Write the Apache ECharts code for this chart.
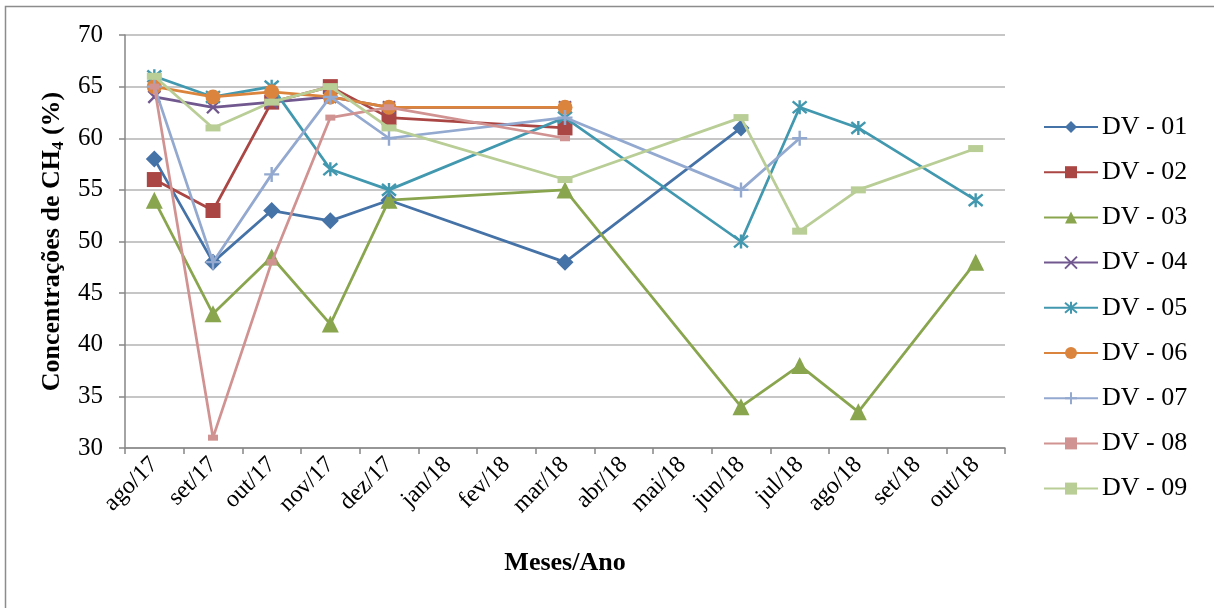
<!DOCTYPE html>
<html>
<head>
<meta charset="utf-8">
<script src="https://cdn.jsdelivr.net/npm/echarts@6/dist/echarts.min.js"></script>
<style>
  html, body { margin: 0; padding: 0; background: #fff; }
  #chart { width: 1214px; height: 608px; }
</style>
</head>
<body>
<div id="chart"></div>
<script>
// Monthly CH4 concentration (%) per digester
const months = ['ago/17','set/17','out/17','nov/17','dez/17','jan/18','fev/18','mar/18','abr/18','mai/18','jun/18','jul/18','ago/18','set/18','out/18'];
const yTicks = [30, 35, 40, 45, 50, 55, 60, 65, 70];

const dv01 = [58, 48, 53, 52, 54, null, null, 48, null, null, 61, null, null, null, null];
const dv02 = [56, 53, 63.5, 65, 62, null, null, 61, null, null, null, null, null, null, null];
const dv03 = [54, 43, 48.5, 42, 54, null, null, 55, null, null, 34, 38, 33.5, null, 48];
const dv04 = [64, 63, 63.5, 64, 63, null, null, 63, null, null, null, null, null, null, null];
const dv05 = [66, 64, 65, 57, 55, null, null, 62, null, null, 50, 63, 61, null, 54];
const dv06 = [65, 64, 64.5, 64, 63, null, null, 63, null, null, null, null, null, null, null];
const dv07 = [65, 48, 56.5, 64, 60, null, null, 62, null, null, 55, 60, null, null, null];
const dv08 = [65, 31, 48, 62, 63, null, null, 60, null, null, null, null, null, null, null];
const dv09 = [66, 61, 63.5, 65, 61, null, null, 56, null, null, 62, 51, 55, null, 59];

const seriesNames = ['DV - 01','DV - 02','DV - 03','DV - 04','DV - 05','DV - 06','DV - 07','DV - 08','DV - 09'];
const seriesData = [dv01, dv02, dv03, dv04, dv05, dv06, dv07, dv08, dv09];
const colors = ['#4572A7','#AA4643','#89A54E','#71588F','#4198AF','#DB843D','#93A9CF','#D19392','#B9CD96'];

const SERIF = '"Liberation Serif", "Times New Roman", serif';

// marker for each series
const markers = [
  { symbol: 'diamond', size: 17, stroke: false },
  { symbol: 'rect', size: 15, stroke: false },
  { symbol: 'triangle', size: 17, stroke: false },
  { symbol: 'path://M0,0L10,10M10,0L0,10', size: 12, stroke: true },
  { symbol: 'path://M5,-1L5,11M0,0L10,10M10,0L0,10', size: 14, stroke: true },
  { symbol: 'circle', size: 15, stroke: false },
  { symbol: 'path://M5,0L5,10M0,5L10,5', size: 15, stroke: true },
  { symbol: 'rect', size: [10, 6], stroke: false },
  { symbol: 'rect', size: [15, 7], stroke: false }
];

const series = seriesNames.map((name, i) => {
  const m = markers[i];
  return {
    name: name,
    type: 'line',
    data: seriesData[i],
    connectNulls: true,
    symbol: m.symbol,
    symbolSize: m.size,
    showAllSymbol: true,
    lineStyle: { color: colors[i], width: 2.75 },
    itemStyle: m.stroke
      ? { color: 'rgba(0,0,0,0)', borderColor: colors[i], borderWidth: 2.4 }
      : { color: colors[i], borderWidth: 0 },
    emphasis: { disabled: true },
    z: 2 + i
  };
});

const chart = echarts.init(document.getElementById('chart'), null, { renderer: 'canvas' });
chart.setOption({
  animation: false,
  backgroundColor: '#fff',
  color: colors,
  graphic: [{
    type: 'rect',
    shape: { x: 5.5, y: 6.5, width: 1300, height: 700 },
    style: { fill: 'none', stroke: '#8c8c8c', lineWidth: 1.5 },
    silent: true, z: -1
  }],
  grid: { left: 125, right: 209, top: 35, bottom: 160 },
  legend: {
    orient: 'vertical',
    left: 1043,
    top: 114,
    padding: 0,
    itemWidth: 54,
    itemHeight: 15,
    itemGap: 19.2,
    textStyle: { fontFamily: SERIF, fontSize: 26, color: '#000', padding: [0, 0, 0, -1] },
    data: seriesNames
  },
  xAxis: {
    type: 'category',
    data: months,
    boundaryGap: true,
    name: 'Meses/Ano',
    nameLocation: 'middle',
    nameGap: 102,
    nameTextStyle: { fontFamily: SERIF, fontSize: 26, fontWeight: 'bold', color: '#000' },
    axisLine: { lineStyle: { color: '#868686', width: 1.5 } },
    axisTick: { show: true, alignWithLabel: false, length: 6, lineStyle: { color: '#868686', width: 1.5 } },
    axisLabel: { rotate: 45, fontFamily: SERIF, fontSize: 24, color: '#000', margin: 13, interval: 0 },
    splitLine: { show: false }
  },
  yAxis: {
    type: 'value',
    min: yTicks[0],
    max: yTicks[yTicks.length - 1],
    interval: 5,
    name: '{b|Concentrações de CH}{s|4}{b| (%)}',
    nameLocation: 'middle',
    nameGap: 58,
    nameRotate: 90,
    nameTextStyle: {
      rich: {
        b: { fontFamily: SERIF, fontSize: 26, fontWeight: 'bold', color: '#000' },
        s: { fontFamily: SERIF, fontSize: 17, fontWeight: 'bold', color: '#000', padding: [12, 0, 0, 0] }
      }
    },
    axisLine: { show: true, lineStyle: { color: '#868686', width: 1.5 } },
    axisTick: { show: true, length: 6, lineStyle: { color: '#868686', width: 1.5 } },
    axisLabel: { fontFamily: SERIF, fontSize: 25, color: '#000', margin: 22 },
    splitLine: { show: true, lineStyle: { color: '#b3b3b3', width: 1.5 } }
  },
  series: series
});
</script>
</body>
</html>
